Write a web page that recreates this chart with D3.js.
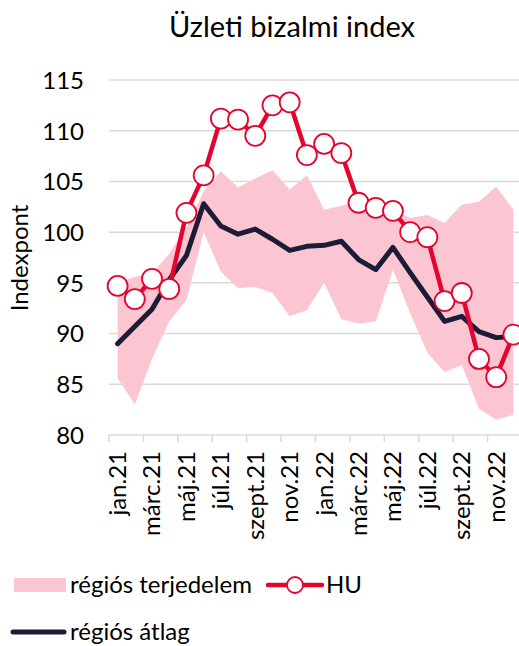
<!DOCTYPE html>
<meta charset="utf-8">
<style>
body { margin: 0; background: #fff; }
text { font-family: Lato, "Open Sans", sans-serif; fill: #000; }
</style>
<body>
<div id="chart"></div>
<script src="https://cdn.jsdelivr.net/npm/d3@7"></script>
<script>
// months jan.21 .. dec.22
var months = ["jan.21","febr.21","márc.21","ápr.21","máj.21","jún.21","júl.21","aug.21","szept.21","okt.21","nov.21","dec.21",
              "jan.22","febr.22","márc.22","ápr.22","máj.22","jún.22","júl.22","aug.22","szept.22","okt.22","nov.22","dec.22"];
var huValues = [94.7,93.4,95.4,94.4,101.9,105.6,111.2,111.1,109.5,112.5,112.8,107.6,
                108.7,107.8,102.9,102.4,102.1,100.0,99.5,93.2,94.0,87.5,85.7,89.9];
var avgValues = [89.0,90.7,92.4,95.3,97.7,102.8,100.6,99.8,100.3,99.3,98.2,98.6,
                 98.7,99.1,97.3,96.3,98.5,96.0,93.6,91.2,91.7,90.2,89.6,89.7];
var rangeHigh = [95.0,95.6,95.9,97.9,100.5,104.0,106.0,104.4,105.3,106.1,104.2,105.6,
                 102.2,102.6,103.0,102.5,102.2,101.4,101.7,100.9,102.7,103.0,104.5,102.2];
var rangeLow = [85.6,83.0,87.5,91.2,93.3,100.0,96.1,94.5,94.6,94.0,91.7,92.3,
                95.0,91.4,91.0,91.2,96.3,92.0,88.1,86.2,86.9,82.6,81.5,82.0];
var yTicks = [80,85,90,95,100,105,110,115];

var W = 519, H = 646;
var mLeft = 109, mTop = 80, plotW = 413, plotH = 355;
var fs = "24px";

var svg = d3.select("#chart").append("svg")
    .attr("width", W).attr("height", H);

var x = d3.scaleBand().domain(months).range([mLeft, mLeft + plotW]);
var y = d3.scaleLinear().domain([80, 115]).range([mTop + plotH, mTop]);
var cx = function(i) { return x(months[i]) + x.bandwidth() / 2; };

// title
svg.append("text").attr("x", 292).attr("y", 37)
    .attr("text-anchor", "middle").style("font-size", "29px")
    .text("Üzleti bizalmi index");

// gridlines
svg.append("g").selectAll("line")
    .data(yTicks.filter(function(d) { return d > 80; }))
  .enter().append("line")
    .attr("x1", mLeft).attr("x2", W)
    .attr("y1", function(d) { return y(d); }).attr("y2", function(d) { return y(d); })
    .attr("stroke", "#d9d9d9").attr("stroke-width", 1.5);

// y axis labels
var yAxis = d3.axisLeft(y).tickValues(yTicks).tickSize(0).tickPadding(0);
var ya = svg.append("g").attr("transform", "translate(84,0)").call(yAxis);
ya.select(".domain").remove();
ya.selectAll("text").style("font-size", fs).style("font-family", "Lato, sans-serif")
    .attr("fill", "#000").attr("dy", "0.35em");

svg.append("text")
    .attr("transform", "translate(28,258) rotate(-90)")
    .attr("text-anchor", "middle").style("font-size", fs)
    .text("Indexpont");

// range band
var area = d3.area()
    .x(function(d, i) { return cx(i); })
    .y0(function(d, i) { return y(rangeLow[i]); })
    .y1(function(d, i) { return y(rangeHigh[i]); });
svg.append("path").datum(months).attr("d", area).attr("fill", "#fbc6d1");

// x axis
var labelled = months.filter(function(d, i) { return i % 2 === 0; });
svg.append("line").attr("x1", mLeft).attr("x2", W)
    .attr("y1", y(80)).attr("y2", y(80))
    .attr("stroke", "#d9d9d9").attr("stroke-width", 1.5);
svg.append("g").selectAll("line").data(labelled)
  .enter().append("line")
    .attr("x1", function(d) { return x(d); }).attr("x2", function(d) { return x(d); })
    .attr("y1", y(80)).attr("y2", y(80) + 7)
    .attr("stroke", "#d9d9d9").attr("stroke-width", 1.5);
svg.append("g").selectAll("text").data(labelled)
  .enter().append("text")
    .attr("transform", function(d) {
      return "translate(" + (x(d) + x.bandwidth() / 2) + "," + (y(80) + 16) + ") rotate(-90)";
    })
    .attr("text-anchor", "end").attr("dy", "0.35em")
    .style("font-size", fs)
    .text(function(d) { return d; });

// average line
var line = d3.line().x(function(d, i) { return cx(i); }).y(function(d) { return y(d); });
svg.append("path").datum(avgValues).attr("d", line)
    .attr("fill", "none").attr("stroke", "#1c1b38").attr("stroke-width", 5)
    .attr("stroke-linejoin", "round").attr("stroke-linecap", "round");

// HU line
svg.append("path").datum(huValues).attr("d", line)
    .attr("fill", "none").attr("stroke", "#e3052f").attr("stroke-width", 4.5)
    .attr("stroke-linejoin", "round");
svg.append("g").selectAll("circle").data(huValues)
  .enter().append("circle")
    .attr("cx", function(d, i) { return cx(i); })
    .attr("cy", function(d) { return y(d); })
    .attr("r", 10)
    .attr("fill", "#fff").attr("stroke", "#e3052f").attr("stroke-width", 1.8);

// legend
var lg = svg.append("g");
lg.append("rect").attr("x", 14).attr("y", 578).attr("width", 52).attr("height", 14).attr("fill", "#fbc6d1");
lg.append("text").attr("x", 70).attr("y", 593).style("font-size", fs).text("régiós terjedelem");
lg.append("line").attr("x1", 268).attr("x2", 322).attr("y1", 585).attr("y2", 585)
    .attr("stroke", "#e3052f").attr("stroke-width", 4.5).attr("stroke-linecap", "round");
lg.append("circle").attr("cx", 295).attr("cy", 585).attr("r", 8)
    .attr("fill", "#fff").attr("stroke", "#e3052f").attr("stroke-width", 1.8);
lg.append("text").attr("x", 326).attr("y", 593).style("font-size", fs).text("HU");
lg.append("line").attr("x1", 13).attr("x2", 64).attr("y1", 632).attr("y2", 632)
    .attr("stroke", "#1c1b38").attr("stroke-width", 5).attr("stroke-linecap", "round");
lg.append("text").attr("x", 70).attr("y", 640).style("font-size", fs).text("régiós átlag");
</script>
</body>
